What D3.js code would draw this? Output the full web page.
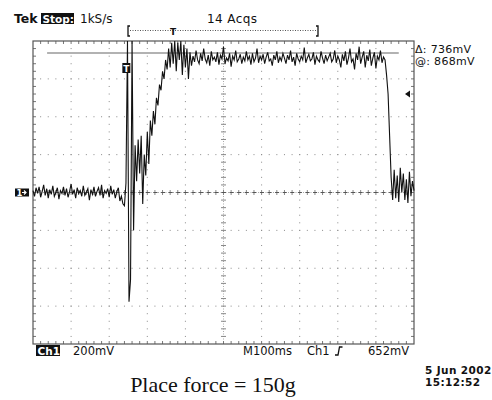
<!DOCTYPE html>
<html>
<head>
<meta charset="utf-8">
<script src="https://cdnjs.cloudflare.com/ajax/libs/d3/7.8.5/d3.min.js"></script>
<style>
  body { margin: 0; background: #fff; }
  svg { display: block; }
</style>
</head>
<body>
<div id="chart"></div>
<script>
(function() {
    // ---- data ----
    const sampleMs = 4;                 // one value every 4 ms, 0..1000 ms
    const traceMv = [
        // pre-trigger baseline
        10,-20,25,-5,30,-25,5,40,-15,20,
        -30,15,-10,35,-20,0,25,-35,10,-5,
        30,-15,20,-25,5,45,-10,15,-30,25,
        -5,10,-20,35,-15,0,20,-40,15,-10,
        30,-20,5,25,-15,40,-30,10,-5,20,
        -25,35,-10,15,-30,5,25,-45,-20,-60,
        // contact spike + rise
        -70,50,800,-577,-460,800,-200,250,60,280,
        100,300,-60,200,90,320,150,380,300,430,
        360,500,460,570,540,640,600,700,650,760,
        660,790,680,800,640,790,700,800,620,780,
        660,760,600,
        // plateau
        740,670,720,690,750,700,680,735,695,760,705,685,725,670,745,700,
        715,690,740,675,725,705,770,680,710,695,735,665,720,700,750,690,
        705,730,680,715,695,745,700,720,675,735,690,710,760,685,720,700,
        730,680,715,740,695,705,670,725,700,745,685,715,695,735,710,680,
        725,700,750,690,715,670,735,705,690,720,700,765,685,710,730,695,
        705,740,675,720,700,690,745,710,680,725,695,715,735,690,705,750,
        685,720,700,660,730,695,745,675,710,760,690,705,650,735,700,770,
        680,715,745,660,725,695,755,670,710,740,655,720,700,750,685,715,
        // release
        700,620,520,300,80,-40,120,-30,90,-50,
        130,0,100,-40,70,-55,110,-20,60,10
    ];
    const cursorMv = [736, 0];          // active, inactive
    const cursorSpanMs = [37, 960];
    const triggerLevelMv = 520;
    const triggerTimeMs = 245;
    const headerLeft = ["Tek", "Stop:", "1kS/s"];
    const headerAcqs = "14 Acqs";
    const cursorReadout = ["\u0394: 736mV", "@: 868mV"];
    const footer = ["Ch1", "200mV", "M100ms", "Ch1", "652mV"];
    const dateLines = ["5 Jun 2002", "15:12:52"];
    const caption = "Place force = 150g";

    const width = 492, height = 400;
    const xDivs = 10, yDivs = 8;
    const scopeFont = "'DejaVu Sans', sans-serif";

    const svg = d3.select("#chart").append("svg")
        .attr("width", width).attr("height", height);

    const x = d3.scaleLinear().domain([0, 1000]).range([33, 414]);
    const y = d3.scaleLinear().domain([-800, 800]).range([344, 41]);
    const [x0, x1] = x.range();
    const [y1, y0] = y.range();
    const dx = (x1 - x0) / xDivs, dy = (y1 - y0) / yDivs;

    /********** graticule **********/
    const grid = svg.append("g");
    // dots along major lines, every 1/5 division
    for (let k = 1; k < xDivs; k++) {
        if (k === 5) continue;
        d3.range(1, yDivs * 5).forEach(j => {
            grid.append("rect").attr("x", x0 + k * dx - 0.5).attr("y", y0 + j * dy / 5 - 0.5)
                .attr("width", 1).attr("height", 1).attr("fill", "#8a8a8a");
        });
    }
    for (let k = 1; k < yDivs; k++) {
        if (k === 4) continue;
        d3.range(1, xDivs * 5).forEach(j => {
            grid.append("rect").attr("x", x0 + j * dx / 5 - 0.5).attr("y", y0 + k * dy - 0.5)
                .attr("width", 1).attr("height", 1).attr("fill", "#8a8a8a");
        });
    }
    // centre axes
    const cx = x0 + 5 * dx, cy = y0 + 4 * dy;
    grid.append("line").attr("x1", cx).attr("x2", cx).attr("y1", y0).attr("y2", y1)
        .attr("stroke", "#aaa").attr("stroke-dasharray", "1,1.5");
    grid.append("line").attr("y1", cy).attr("y2", cy).attr("x1", x0).attr("x2", x1)
        .attr("stroke", "#aaa").attr("stroke-dasharray", "1,1.5");
    d3.range(1, yDivs * 5).forEach(j => {
        grid.append("line").attr("x1", cx - 2.5).attr("x2", cx + 2.5)
            .attr("y1", y0 + j * dy / 5).attr("y2", y0 + j * dy / 5).attr("stroke", "#888");
    });
    d3.range(1, xDivs * 5).forEach(j => {
        grid.append("line").attr("y1", cy - 2.5).attr("y2", cy + 2.5)
            .attr("x1", x0 + j * dx / 5).attr("x2", x0 + j * dx / 5).attr("stroke", "#888");
    });
    // border ticks
    d3.range(1, xDivs * 5).forEach(j => {
        const px = x0 + j * dx / 5;
        grid.append("line").attr("x1", px).attr("x2", px).attr("y1", y0).attr("y2", y0 + 3).attr("stroke", "#777");
        grid.append("line").attr("x1", px).attr("x2", px).attr("y1", y1).attr("y2", y1 - 3).attr("stroke", "#777");
    });
    d3.range(1, yDivs * 5).forEach(j => {
        const py = y0 + j * dy / 5;
        grid.append("line").attr("y1", py).attr("y2", py).attr("x1", x0).attr("x2", x0 + 3).attr("stroke", "#777");
        grid.append("line").attr("y1", py).attr("y2", py).attr("x1", x1).attr("x2", x1 - 3).attr("stroke", "#777");
    });
    grid.append("rect").attr("x", x0).attr("y", y0).attr("width", x1 - x0).attr("height", y1 - y0)
        .attr("fill", "none").attr("stroke", "#555").attr("stroke-width", 1.2);

    /********** cursors **********/
    svg.append("line")
        .attr("x1", x(cursorSpanMs[0])).attr("x2", x(cursorSpanMs[1]))
        .attr("y1", y(cursorMv[0])).attr("y2", y(cursorMv[0]))
        .attr("stroke", "#999").attr("stroke-width", 1.5);
    svg.append("line")
        .attr("x1", x(cursorSpanMs[0])).attr("x2", x(cursorSpanMs[1]))
        .attr("y1", y(cursorMv[1])).attr("y2", y(cursorMv[1]))
        .attr("stroke", "#555").attr("stroke-width", 1.2).attr("stroke-dasharray", "4,3.6");

    /********** trace **********/
    const line = d3.line()
        .x((d, i) => x(i * sampleMs))
        .y(d => y(d));
    svg.append("path").datum(traceMv)
        .attr("d", line)
        .attr("fill", "none").attr("stroke", "#111").attr("stroke-width", 1.1);

    /********** markers **********/
    // trigger position "T" box
    const tX = x(triggerTimeMs);
    svg.append("rect").attr("x", tX - 4).attr("y", 63).attr("width", 8).attr("height", 10).attr("fill", "#111");
    svg.append("text").attr("x", tX).attr("y", 71.5).attr("text-anchor", "middle")
        .attr("font-family", scopeFont).attr("font-weight", "bold").attr("font-size", 9)
        .attr("fill", "#fff").text("T");
    // ground marker "1→"
    const gY = y(0);
    svg.append("rect").attr("x", 15).attr("y", gY - 4).attr("width", 14).attr("height", 8).attr("fill", "#111");
    svg.append("text").attr("x", 16.5).attr("y", gY + 3.5)
        .attr("font-family", scopeFont).attr("font-weight", "bold").attr("font-size", 8.5)
        .attr("fill", "#fff").text("1");
    svg.append("path").attr("d", `M22,${gY} h4 M24,${gY - 2} l2,2 l-2,2`)
        .attr("stroke", "#fff").attr("stroke-width", 1.2).attr("fill", "none");
    // trigger level arrow
    const lY = y(triggerLevelMv);
    svg.append("path").attr("d", `M405,${lY} L410,${lY - 3.5} L410,${lY + 3.5} Z`).attr("fill", "#111");

    /********** header **********/
    const txt = (sx, sy, s, opts = {}) => svg.append("text")
        .attr("x", sx).attr("y", sy)
        .attr("font-family", opts.family || scopeFont)
        .attr("font-size", opts.size || 11.5)
        .attr("font-weight", opts.weight || "normal")
        .attr("fill", opts.fill || "#111")
        .attr("text-anchor", opts.anchor || "start")
        .attr("letter-spacing", opts.spacing || 0)
        .text(s);

    txt(14, 23, headerLeft[0], { weight: "bold", size: 12.5 });
    svg.append("rect").attr("x", 41).attr("y", 13).attr("width", 33).attr("height", 11).attr("fill", "#111");
    txt(42.5, 22.5, headerLeft[1], { weight: "bold", size: 10.5, fill: "#fff" });
    txt(80, 23, headerLeft[2], { size: 12 });
    txt(207, 23, headerAcqs, { size: 12, spacing: 0.4 });

    // record window bracket
    svg.append("path").attr("d", "M130,26 h-2 v10 h2 M316,26 h2 v10 h-2")
        .attr("stroke", "#111").attr("stroke-width", 1.3).attr("fill", "none");
    svg.append("line").attr("x1", 130).attr("x2", 316).attr("y1", 30.5).attr("y2", 30.5)
        .attr("stroke", "#555").attr("stroke-dasharray", "1,1.5");
    txt(173, 35, "T", { weight: "bold", size: 9, anchor: "middle" });

    // cursor readout
    txt(415, 53, cursorReadout[0], { size: 11, spacing: 0.3 });
    txt(415, 65, cursorReadout[1], { size: 11, spacing: 0.3 });

    /********** footer **********/
    svg.append("rect").attr("x", 36).attr("y", 345).attr("width", 24).attr("height", 11).attr("fill", "#111");
    txt(37.5, 354.5, footer[0], { weight: "bold", size: 10.5, fill: "#fff" });
    txt(73, 355, footer[1]);
    txt(243, 355, footer[2]);
    txt(307, 355, footer[3]);
    svg.append("path").attr("d", "M335,355 h3 l1.5,-8 h3")
        .attr("stroke", "#111").attr("stroke-width", 1.3).attr("fill", "none");
    txt(368, 355, footer[4]);

    txt(425, 374, dateLines[0], { weight: "bold", size: 10.5, spacing: 0.4 });
    txt(425, 386, dateLines[1], { weight: "bold", size: 10.5, spacing: 0.4 });

    txt(213, 392, caption, { family: "'Liberation Serif', 'Times New Roman', serif", size: 22, anchor: "middle" });
})();
</script>
</body>
</html>
